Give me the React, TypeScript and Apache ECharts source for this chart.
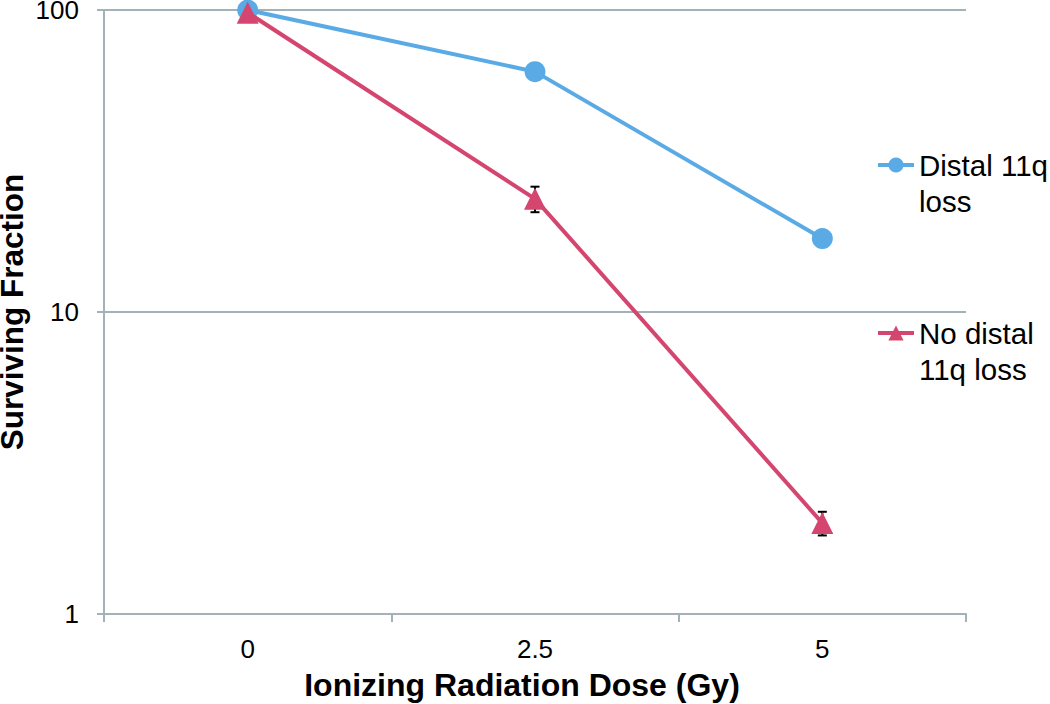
import React, { useEffect, useRef } from "react";
import * as echarts from "echarts";

const doses = ["0", "2.5", "5"];
const distalLoss = [100, 62.5, 17.5];
const noDistalLoss = [98, 23.7, 2.0];
const noDistalErr = [0, 2.3, 0.18];
const yTicks = [1, 10, 100];

const FONT = "'Liberation Sans', Arial, sans-serif";
const BLUE = "#5AAAE6";
const PINK = "#D4466F";
const AXIS = "#A3B1B8";

export default function App() {
  const ref = useRef<HTMLDivElement>(null);
  useEffect(() => {
    if (!ref.current) return;
    const chart = echarts.init(ref.current, null, { renderer: "svg" });
    const errData = noDistalErr
      .map((e, i) => [i, noDistalLoss[i] - e, noDistalLoss[i] + e, e])
      .filter((d) => d[3] > 0);
    chart.setOption({
      animation: false,
      backgroundColor: "#ffffff",
      textStyle: { fontFamily: FONT },
      grid: {
        left: 104,
        right: 84,
        top: 10,
        bottom: 90,
        containLabel: false,
        outerBoundsMode: "none",
      },
      legend: {
        orient: "vertical",
        left: 876,
        top: 111,
        padding: 0,
        itemGap: 60,
        itemWidth: 36,
        itemHeight: 19,
        data: ["Distal 11q loss", "No distal 11q loss"],
        formatter: (name: string) =>
          name === "Distal 11q loss" ? "\nDistal 11q\nloss" : "\nNo distal\n11q loss",
        lineStyle: { width: 4 },
        textStyle: { fontSize: 29.5, color: "#000", lineHeight: 36, fontFamily: FONT },
      },
      xAxis: {
        type: "category",
        data: doses,
        boundaryGap: true,
        name: "Ionizing Radiation Dose (Gy)",
        nameLocation: "middle",
        nameGap: 55,
        nameMoveOverlap: false,
        nameTextStyle: {
          fontSize: 32,
          fontWeight: "bold",
          color: "#000",
          fontFamily: FONT,
          padding: [0, 26, 0, 0],
        },
        axisLine: { lineStyle: { color: AXIS, width: 2 } },
        axisTick: { show: true, length: 8, lineStyle: { color: AXIS, width: 2 } },
        axisLabel: { fontSize: 26, color: "#000", margin: 22, fontFamily: FONT },
      },
      yAxis: {
        type: "log",
        logBase: 10,
        min: yTicks[0],
        max: yTicks[yTicks.length - 1],
        name: "Surviving Fraction",
        nameLocation: "middle",
        nameGap: 76,
        nameMoveOverlap: false,
        nameTextStyle: { fontSize: 31.5, fontWeight: "bold", color: "#000", fontFamily: FONT },
        axisLine: { show: true, lineStyle: { color: AXIS, width: 2 } },
        axisTick: { show: true, length: 7, lineStyle: { color: AXIS, width: 2 } },
        axisLabel: { fontSize: 26, color: "#000", margin: 25, fontFamily: FONT },
        splitLine: { show: true, lineStyle: { color: AXIS, width: 2 } },
        minorTick: { show: false },
      },
      series: [
        {
          type: "custom",
          name: "err",
          z: 1,
          data: errData,
          encode: { x: 0, y: [1, 2] },
          renderItem: (params: any, api: any) => {
            const idx = api.value(0);
            const lo = api.coord([idx, api.value(1)]);
            const hi = api.coord([idx, api.value(2)]);
            const w = 4.5;
            const style = { stroke: "#000", lineWidth: 2 };
            return {
              type: "group",
              children: [
                { type: "line", shape: { x1: lo[0], y1: lo[1], x2: hi[0], y2: hi[1] }, style },
                { type: "line", shape: { x1: hi[0] - w, y1: hi[1], x2: hi[0] + w, y2: hi[1] }, style },
                { type: "line", shape: { x1: lo[0] - w, y1: lo[1], x2: lo[0] + w, y2: lo[1] }, style },
              ],
            };
          },
        },
        {
          type: "line",
          name: "Distal 11q loss",
          z: 2,
          data: distalLoss,
          symbol: "circle",
          symbolSize: 21,
          color: BLUE,
          lineStyle: { color: BLUE, width: 4 },
          itemStyle: { color: BLUE },
        },
        {
          type: "line",
          name: "No distal 11q loss",
          z: 3,
          data: noDistalLoss,
          symbol: "triangle",
          symbolSize: 22,
          color: PINK,
          lineStyle: { color: PINK, width: 4 },
          itemStyle: { color: PINK },
        },
      ],
    });
    return () => chart.dispose();
  }, []);
  return (
    <div
      ref={ref}
      style={{ position: "fixed", left: 0, top: 0, width: 1050, height: 704, background: "#fff" }}
    />
  );
}
